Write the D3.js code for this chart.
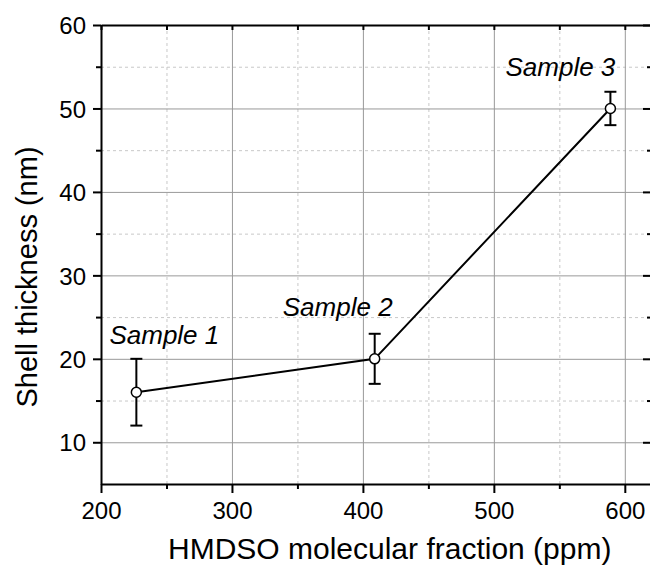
<!DOCTYPE html>
<html>
<head>
<meta charset="utf-8">
<script src="https://cdn.jsdelivr.net/npm/d3@7"></script>
<style>
body { margin:0; background:#fff; }
svg { font-family: "Liberation Sans", Arial, sans-serif; }
.domain { stroke:#000; stroke-width:2px; }
.tick line { stroke:#000; stroke-width:2px; }
</style>
</head>
<body>
<svg id="chart" width="650" height="569"></svg>
<script>
// sample data
var SAMPLES = ["Sample 1","Sample 2","Sample 3"];
var HMDSO_PPM = [227, 409, 589];
var THICKNESS_NM = [16, 20, 50];
var ERR_UP = [4, 3, 2];
var ERR_DOWN = [4, 3, 2];

var X_MAJOR = [200,300,400,500,600];
var X_MINOR = [250,350,450,550];
var Y_MAJOR = [10,20,30,40,50,60];
var Y_MINOR = [15,25,35,45,55];

var svg = d3.select("#chart");

var LEFT = 101, TOP = 25, BOTTOM = 484, RIGHT = 651;

var x = d3.scaleLinear().domain([200,620]).range([LEFT,RIGHT]);
var y = d3.scaleLinear().domain([5,60]).range([BOTTOM,TOP]);

//---------------- grid --------------------
var gGrid = svg.append("g").attr("id","grid");

gGrid.selectAll(".vminor").data(X_MINOR).enter().append("line")
	.attr("x1",function(d){return x(d)+0.5;}).attr("x2",function(d){return x(d)+0.5;})
	.attr("y1",TOP).attr("y2",BOTTOM)
	.attr("stroke","#c8c8c8").attr("stroke-dasharray","3,3");
gGrid.selectAll(".hminor").data(Y_MINOR).enter().append("line")
	.attr("y1",function(d){return y(d)+0.5;}).attr("y2",function(d){return y(d)+0.5;})
	.attr("x1",LEFT).attr("x2",RIGHT)
	.attr("stroke","#c8c8c8").attr("stroke-dasharray","3,3");
gGrid.selectAll(".vmajor").data(X_MAJOR.slice(1)).enter().append("line")
	.attr("x1",function(d){return x(d)+0.5;}).attr("x2",function(d){return x(d)+0.5;})
	.attr("y1",TOP).attr("y2",BOTTOM)
	.attr("stroke","#999");
gGrid.selectAll(".hmajor").data(Y_MAJOR.slice(0,-1)).enter().append("line")
	.attr("y1",function(d){return y(d)+0.5;}).attr("y2",function(d){return y(d)+0.5;})
	.attr("x1",LEFT).attr("x2",RIGHT)
	.attr("stroke","#999");

//---------------- axes --------------------
function _axis(gen, tr, vals, size, labels){
	var g = svg.append("g").attr("transform",tr)
		.call(gen.tickValues(vals).tickSize(size).tickSizeOuter(0).tickPadding(size>0?7:0));
	if (!labels) g.selectAll("text").remove();
	else g.selectAll("text").attr("font-size","24px").attr("fill","#000").attr("font-family","Liberation Sans, Arial, sans-serif");
	return g;
}
// minor ticks first, then major ones with labels
_axis(d3.axisBottom(x), "translate(0,"+BOTTOM+")", X_MINOR, 5, false).select(".domain").remove();
var gX = _axis(d3.axisBottom(x), "translate(0,"+BOTTOM+")", X_MAJOR, 9, true);
_axis(d3.axisLeft(y), "translate("+LEFT+",0)", Y_MINOR, 5, false).select(".domain").remove();
var gY = _axis(d3.axisLeft(y), "translate("+LEFT+",0)", Y_MAJOR, 8, true);
_axis(d3.axisTop(x), "translate(0,"+TOP+")", X_MAJOR.concat(X_MINOR), -5, false);
_axis(d3.axisRight(y), "translate("+RIGHT+",0)", Y_MINOR, -4, false).select(".domain").remove();
_axis(d3.axisRight(y), "translate("+RIGHT+",0)", Y_MAJOR, -8, false);

gY.selectAll(".tick text").attr("dy","0.36em");
gX.selectAll(".tick text").attr("dy","0.8em");

//---------------- titles --------------------
svg.append("text").attr("x",168).attr("y",559)
	.attr("font-size","30px").attr("text-anchor","start")
	.text("HMDSO molecular fraction (ppm)");
svg.append("text").attr("transform","translate(37,277) rotate(-90)")
	.attr("font-size","29px").attr("text-anchor","middle")
	.text("Shell thickness (nm)");

//---------------- data --------------------
var pts = SAMPLES.map(function(s,i){
	return {name:s, x:HMDSO_PPM[i], y:THICKNESS_NM[i], up:ERR_UP[i], down:ERR_DOWN[i]};
});

var gData = svg.append("g").attr("id","data");

gData.append("path").datum(pts)
	.attr("fill","none").attr("stroke","#000").attr("stroke-width",2)
	.attr("d", d3.line().x(function(d){return x(d.x);}).y(function(d){return y(d.y);}));

var gErr = gData.selectAll(".err").data(pts).enter().append("g")
	.attr("stroke","#000").attr("stroke-width",2);
gErr.append("line")
	.attr("x1",function(d){return x(d.x);}).attr("x2",function(d){return x(d.x);})
	.attr("y1",function(d){return y(d.y+d.up);}).attr("y2",function(d){return y(d.y-d.down);});
gErr.append("line")
	.attr("x1",function(d){return x(d.x)-6;}).attr("x2",function(d){return x(d.x)+6;})
	.attr("y1",function(d){return y(d.y+d.up);}).attr("y2",function(d){return y(d.y+d.up);});
gErr.append("line")
	.attr("x1",function(d){return x(d.x)-6;}).attr("x2",function(d){return x(d.x)+6;})
	.attr("y1",function(d){return y(d.y-d.down);}).attr("y2",function(d){return y(d.y-d.down);});

gData.selectAll("circle").data(pts).enter().append("circle")
	.attr("cx",function(d){return x(d.x);}).attr("cy",function(d){return y(d.y);})
	.attr("r",5).attr("fill","#fff").attr("stroke","#000").attr("stroke-width",1.5);

// label offsets relative to the top of each error bar (px)
var LABEL_DX = [28, -37, -50];
var LABEL_DY = [-15, -18, -16];
gData.selectAll(".lbl").data(pts).enter().append("text")
	.attr("x",function(d,i){return x(d.x)+LABEL_DX[i];})
	.attr("y",function(d,i){return y(d.y+d.up)+LABEL_DY[i];})
	.attr("text-anchor","middle").attr("font-size","26px").attr("font-style","italic")
	.text(function(d){return d.name;});
</script>
</body>
</html>
